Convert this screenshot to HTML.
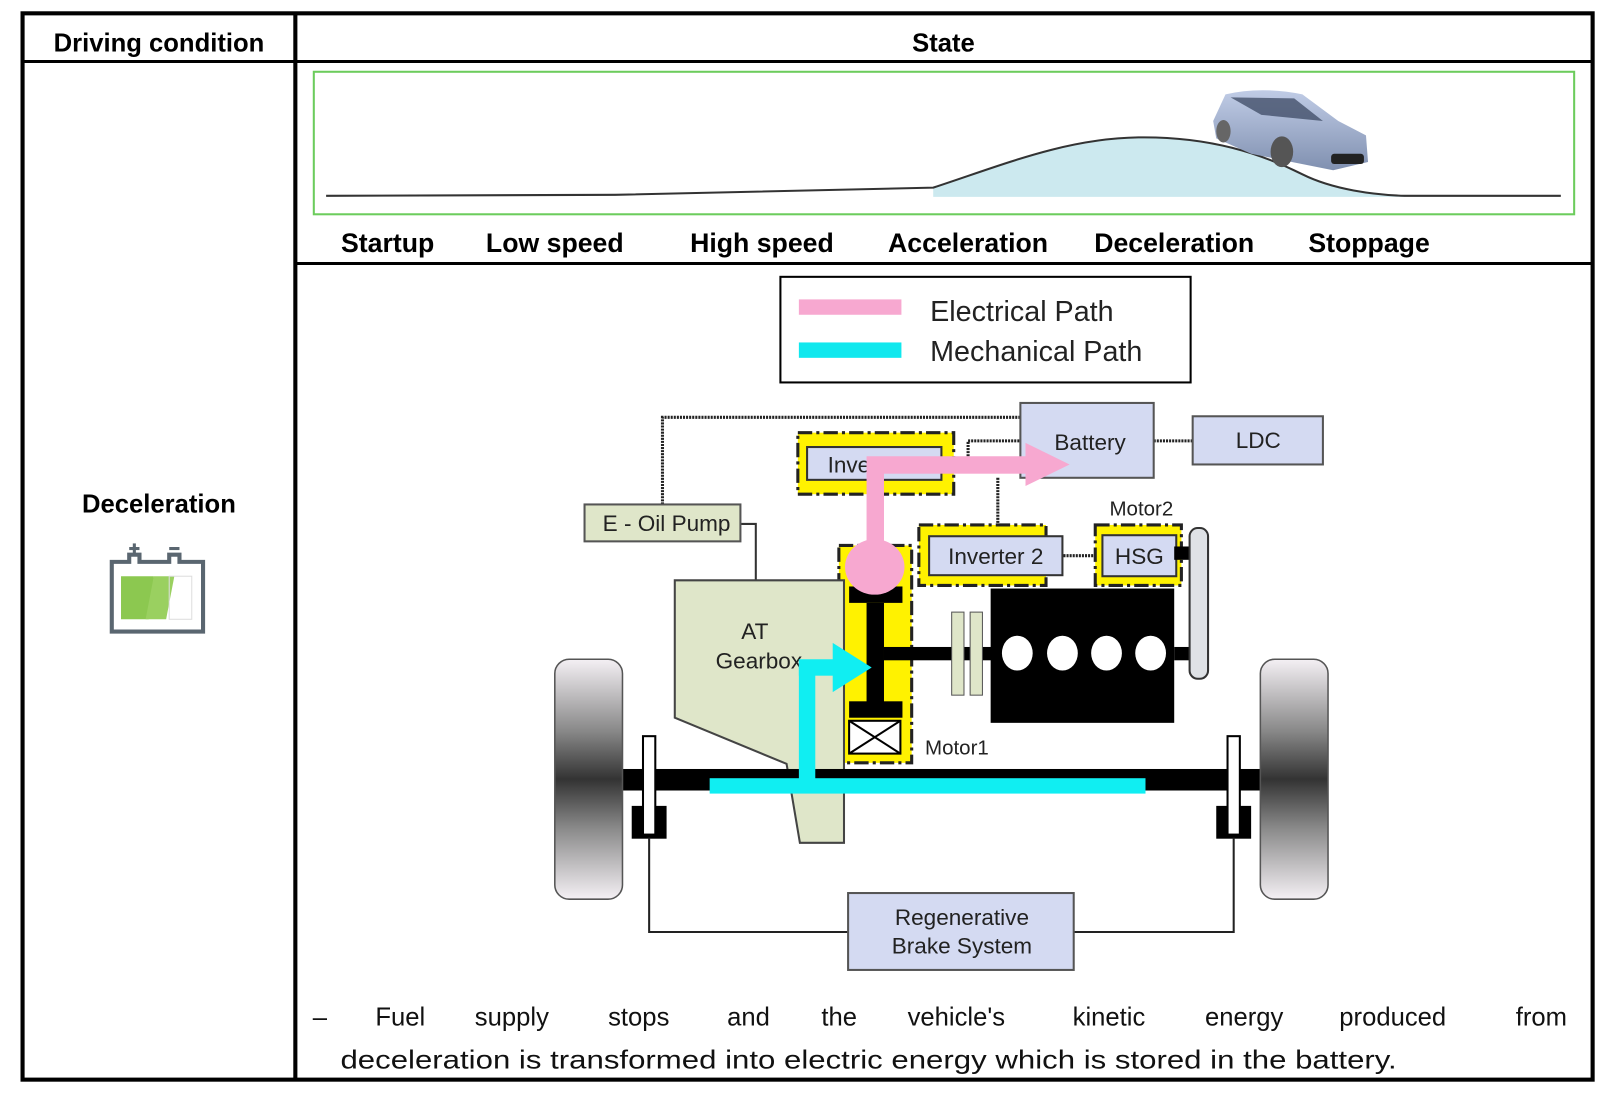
<!DOCTYPE html>
<html><head><meta charset="utf-8"><style>
html,body{margin:0;padding:0;background:#fff}
svg{display:block}
text{font-family:"Liberation Sans","DejaVu Sans",sans-serif}
</style></head><body>
<svg width="1608" height="1094" viewBox="0 0 1568 1067" preserveAspectRatio="none" xmlns="http://www.w3.org/2000/svg">
<defs>
<linearGradient id="wg" x1="0" y1="0" x2="0" y2="1">
<stop offset="0" stop-color="#f4f0f4"/><stop offset="0.3" stop-color="#888"/><stop offset="0.5" stop-color="#333"/><stop offset="0.7" stop-color="#888"/><stop offset="1" stop-color="#f4f0f4"/>
</linearGradient>
<linearGradient id="cg" x1="0" y1="0" x2="0" y2="1"><stop offset="0" stop-color="#c0cce6"/><stop offset="1" stop-color="#8090b0"/></linearGradient>
</defs>
<rect width="1568" height="1067" fill="#fff"/>
<!-- table -->
<rect x="22" y="13" width="1531" height="1040" fill="none" stroke="#000" stroke-width="4"/>
<line x1="288" y1="13" x2="288" y2="1053" stroke="#000" stroke-width="4"/>
<line x1="22" y1="60" x2="1553" y2="60" stroke="#000" stroke-width="3"/>
<line x1="288" y1="257" x2="1553" y2="257" stroke="#000" stroke-width="3"/>
<text x="155" y="50" font-size="25" font-weight="bold" text-anchor="middle">Driving condition</text>
<text x="920" y="50" font-size="25" font-weight="bold" text-anchor="middle">State</text>
<!-- left cell -->
<text x="155" y="500" font-size="25" font-weight="bold" text-anchor="middle">Deceleration</text>
<g stroke="#5a6670" fill="none">
<path d="M109 548 H126 V541 H136 V548 H165 V541 H175 V548 H198 V616 H109 Z" stroke-width="4"/>
<line x1="126" y1="535" x2="136" y2="535" stroke-width="3"/><line x1="131" y1="530" x2="131" y2="540" stroke-width="3"/>
<line x1="165" y1="535" x2="175" y2="535" stroke-width="3"/>
</g>
<polygon points="118,562 150,562 145,604 118,604" fill="#8cc850"/>
<polygon points="150,562 170,562 162,604 142,604" fill="#9ad060"/>
<rect x="165" y="562" width="22" height="42" fill="none" stroke="#ddd" stroke-width="1"/>
<!-- graph -->
<rect x="306" y="70" width="1229" height="139" fill="none" stroke="#6ccc5c" stroke-width="2"/>
<path d="M910 183 C 980 160, 1040 135, 1110 134 C 1180 133, 1230 150, 1270 170 C 1300 185, 1340 190, 1370 191 L1370 192 L910 192 Z" fill="#cce9ef"/>
<path d="M318 191 L 600 190 L 910 183 C 980 160, 1040 135, 1110 134 C 1180 133, 1230 150, 1270 170 C 1300 185, 1340 190, 1370 191 L1522 191" fill="none" stroke="#333" stroke-width="2"/>
<!-- car -->
<g>
<path d="M1183 118 L1195 92 Q1230 84 1270 92 L1305 118 L1332 132 L1334 158 L1300 166 L1220 150 L1186 135 Z" fill="url(#cg)"/>
<path d="M1200 95 L1262 96 L1290 118 L1230 112 Z" fill="#44506a" opacity="0.8"/>
<ellipse cx="1250" cy="148" rx="11" ry="15" fill="#555"/>
<ellipse cx="1193" cy="128" rx="7" ry="11" fill="#666"/>
<rect x="1298" y="150" width="32" height="10" fill="#222" rx="3"/>
</g>
<g font-size="26" font-weight="bold" text-anchor="middle">
<text x="378" y="246">Startup</text><text x="541" y="246">Low speed</text><text x="743" y="246">High speed</text>
<text x="944" y="246">Acceleration</text><text x="1145" y="246">Deceleration</text><text x="1335" y="246">Stoppage</text>
</g>
<!-- legend -->
<rect x="761" y="270" width="400" height="103" fill="#fff" stroke="#000" stroke-width="2"/>
<rect x="779" y="292" width="100" height="15" fill="#f7a8d0"/>
<rect x="779" y="334" width="100" height="15" fill="#10e8ee"/>
<text x="907" y="313" font-size="28" fill="#222">Electrical Path</text>
<text x="907" y="352" font-size="28" fill="#222">Mechanical Path</text>
<!-- dotted connectors -->
<g stroke="#222" stroke-width="3" stroke-dasharray="2 1" fill="none">
<polyline points="646,492 646,407 995,407"/>
<polyline points="944,445 944,430 995,430"/>
<line x1="973" y1="466" x2="973" y2="522"/>
<line x1="1125" y1="430" x2="1163" y2="430"/>
<line x1="1037" y1="542" x2="1075" y2="542"/>
</g>
<polyline points="722,511 737,511 737,566" fill="none" stroke="#333" stroke-width="2"/>
<!-- boxes -->
<rect x="995" y="393" width="130" height="73" fill="#d4daf2" stroke="#555" stroke-width="2"/>
<text x="1063" y="439" font-size="22" text-anchor="middle" fill="#222">Battery</text>
<rect x="1163" y="406" width="127" height="47" fill="#d4daf2" stroke="#555" stroke-width="2"/>
<text x="1227" y="437" font-size="22" text-anchor="middle" fill="#222">LDC</text>
<rect x="570" y="492" width="152" height="36" fill="#dfe6c9" stroke="#555" stroke-width="2"/>
<text x="650" y="518" font-size="22" text-anchor="middle" fill="#222">E - Oil Pump</text>
<!-- yellow dashed -->
<g fill="#fff200" stroke="#222" stroke-width="3" stroke-dasharray="14 4 3 4">
<rect x="778" y="422" width="152" height="60"/>
<rect x="896" y="512" width="124" height="59"/>
<rect x="1068" y="512" width="84" height="59"/>
<rect x="818" y="532" width="71" height="212"/>
</g>
<rect x="787" y="436" width="131" height="32" fill="#d4daf2" stroke="#333" stroke-width="2"/>
<text x="807" y="461" font-size="22" fill="#222">Inverter 1</text>
<rect x="906" y="523" width="130" height="38" fill="#d4daf2" stroke="#333" stroke-width="2"/>
<text x="971" y="550" font-size="22" text-anchor="middle" fill="#222">Inverter 2</text>
<rect x="1075" y="522" width="72" height="40" fill="#d4daf2" stroke="#333" stroke-width="2"/>
<text x="1111" y="550" font-size="22" text-anchor="middle" fill="#222">HSG</text>
<text x="1113" y="503" font-size="20" text-anchor="middle" fill="#222">Motor2</text>
<!-- gearbox -->
<polygon points="658,566 823,566 823,822 780,822 767,745 658,700" fill="#dfe6c9" stroke="#444" stroke-width="2"/>
<text x="736" y="623" font-size="22" text-anchor="middle" fill="#222">AT</text>
<text x="740" y="652" font-size="22" text-anchor="middle" fill="#222">Gearbox</text>
<!-- axle and wheels -->
<rect x="545" y="750" width="745" height="21" fill="#000"/>
<rect x="541" y="643" width="66" height="234" rx="14" fill="url(#wg)" stroke="#555" stroke-width="1.5"/>
<rect x="1229" y="643" width="66" height="234" rx="14" fill="url(#wg)" stroke="#555" stroke-width="1.5"/>
<g fill="#fff" stroke="#000" stroke-width="2">
<rect x="617" y="787" width="32" height="30" fill="#000"/><rect x="627" y="718" width="12" height="96"/>
<rect x="1187" y="787" width="32" height="30" fill="#000"/><rect x="1197" y="718" width="12" height="96"/>
</g>
<polyline points="633,817 633,909 827,909" fill="none" stroke="#222" stroke-width="2"/>
<polyline points="1203,817 1203,909 1047,909" fill="none" stroke="#222" stroke-width="2"/>
<rect x="827" y="871" width="220" height="75" fill="#d4daf2" stroke="#555" stroke-width="2"/>
<text x="938" y="902" font-size="22" text-anchor="middle" fill="#222">Regenerative</text>
<text x="938" y="930" font-size="22" text-anchor="middle" fill="#222">Brake System</text>
<!-- motor1 internals -->
<rect x="828" y="572" width="52" height="16" fill="#000"/>
<rect x="845" y="588" width="17" height="100" fill="#000"/>
<rect x="828" y="684" width="52" height="16" fill="#000"/>
<rect x="828" y="703" width="50" height="32" fill="#fff" stroke="#000" stroke-width="2"/>
<path d="M828 703 L878 735 M878 703 L828 735" stroke="#000" stroke-width="2"/>
<text x="902" y="736" font-size="20" fill="#222">Motor1</text>
<!-- shaft, clutch, engine -->
<rect x="862" y="631" width="110" height="13" fill="#000"/>
<rect x="928" y="597" width="12" height="81" fill="#dfe6c9" stroke="#555"/>
<rect x="946" y="597" width="12" height="81" fill="#dfe6c9" stroke="#555"/>
<rect x="966" y="574" width="179" height="131" fill="#000"/>
<g fill="#fff"><ellipse cx="992" cy="637" rx="15" ry="17"/><ellipse cx="1036" cy="637" rx="15" ry="17"/><ellipse cx="1079" cy="637" rx="15" ry="17"/><ellipse cx="1122" cy="637" rx="15" ry="17"/></g>
<rect x="1145" y="631" width="20" height="13" fill="#000"/>
<rect x="1145" y="533" width="20" height="13" fill="#000"/>
<rect x="1160" y="515" width="18" height="147" rx="8" fill="#dfe2e6" stroke="#333" stroke-width="2"/>
<!-- electrical path -->
<rect x="845" y="445" width="160" height="17" fill="#f7a8d0"/>
<polygon points="1000,432 1043,453 1000,474" fill="#f7a8d0"/>
<rect x="845" y="453" width="17" height="100" fill="#f7a8d0"/>
<ellipse cx="853" cy="553" rx="29" ry="27" fill="#f7a8d0"/>
<!-- mechanical path -->
<rect x="692" y="759" width="425" height="15" fill="#10eef2"/>
<rect x="779" y="645" width="16" height="120" fill="#10eef2"/>
<rect x="779" y="643" width="40" height="16" fill="#10eef2"/>
<polygon points="812,627 850,651 812,675" fill="#10eef2"/>
<!-- bottom text -->
<g font-size="25" fill="#111">
<text x="305" y="1000">–</text>
<text x="366" y="1000">Fuel</text><text x="463" y="1000">supply</text><text x="593" y="1000">stops</text>
<text x="709" y="1000">and</text><text x="801" y="1000">the</text><text x="885" y="1000">vehicle's</text>
<text x="1046" y="1000">kinetic</text><text x="1175" y="1000">energy</text><text x="1306" y="1000">produced</text><text x="1478" y="1000">from</text>
<text x="332" y="1042" textLength="1030" lengthAdjust="spacingAndGlyphs">deceleration is transformed into electric energy which is stored in the battery.</text>
</g>
</svg>
</body></html>
